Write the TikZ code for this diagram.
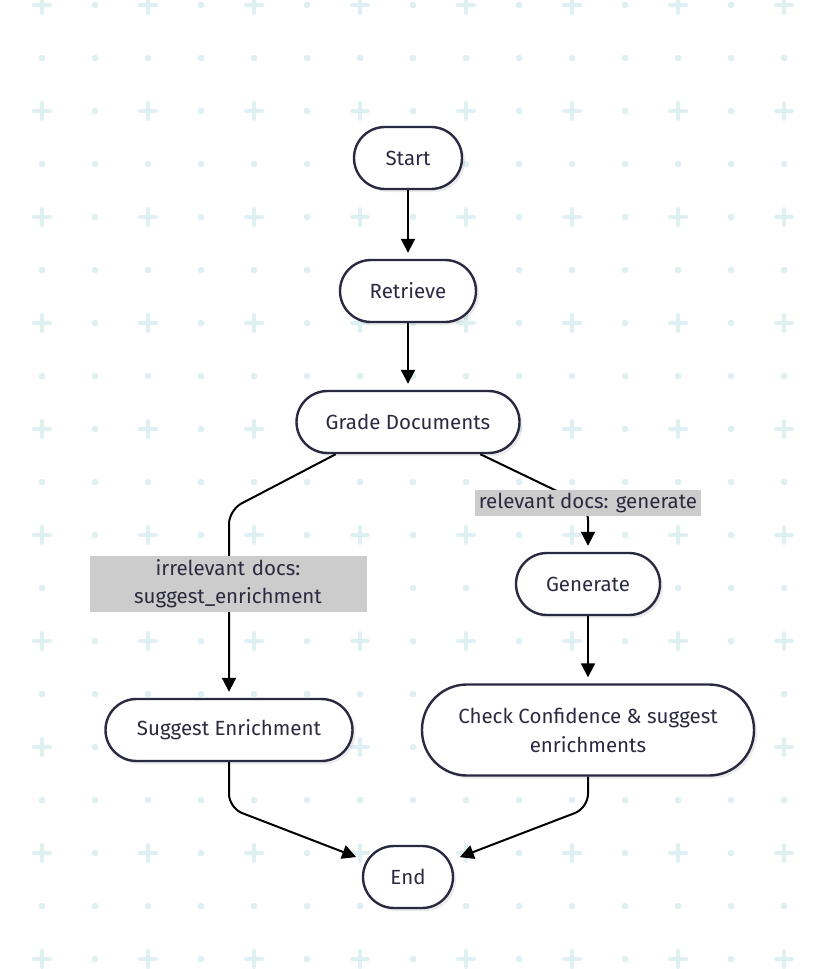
\documentclass[tikz,border=0pt]{standalone}
\usepackage{fontspec}
\setmainfont{Fira Sans}
\usepackage{tikz}
\usetikzlibrary{arrows.meta,shadows}
\definecolor{navyline}{HTML}{2A2942}
\definecolor{navytext}{HTML}{2B2A40}
\definecolor{labelgray}{HTML}{CCCCCC}
\definecolor{gridmark}{HTML}{DFF0F3}

\begin{document}
\begin{tikzpicture}[x=1pt, y=-1pt,
  stage/.style={rectangle, draw=navyline, line width=2.4pt, fill=white,
    rounded corners=31pt, minimum height=62pt, inner sep=0pt, align=center,
    text=navytext, font=\fontsize{20.5}{29}\selectfont,
    drop shadow={shadow xshift=3pt, shadow yshift=-3pt, opacity=0.08, fill=black}},
  flow/.style={line width=2pt, -{Triangle[length=14pt,width=14pt]}, shorten >=6pt,
    rounded corners=14pt},
  edgelabel/.style={fill=labelgray, inner xsep=4pt, inner ysep=3.5pt, align=center,
    text=navytext, font=\fontsize{20.5}{28}\selectfont}]
   \useasboundingbox (0,0) rectangle (824,969);
   \fill[white] (0,0) rectangle (824,969);
   \foreach \i in {0,...,14} \foreach \j in {0,...,18}
     \fill[gridmark, rounded corners=1.5pt] (42+53*\i-3, 5+53*\j-3) rectangle ++(6,6);
   \foreach \i in {0,...,7} \foreach \j in {0,...,9}
     \draw[gridmark, line width=4pt, line cap=round]
       (42+106*\i-8, 5+106*\j) -- ++(16,0) (42+106*\i, 5+106*\j-8) -- ++(0,16);

   \node[stage, minimum width=108pt] (start) at (408,158) {Start};
   \node[stage, minimum width=136pt] (retrieve) at (408,291) {Retrieve};
   \node[stage, minimum width=223pt] (grade) at (408,422) {Grade Documents};
   \node[stage, minimum width=144pt] (generate) at (588,584) {Generate};
   \node[stage, minimum width=247pt] (suggest) at (229,730) {Suggest Enrichment};
   \node[stage, minimum width=332pt, minimum height=91pt, rounded corners=45pt]
        (check) at (588,730) {Check Confidence \& suggest\\enrichments};
   \node[stage, minimum width=90pt] (end) at (408,877) {End};
   \coordinate (bendL) at (229,510);
   \coordinate (bendR) at (588,506);
   \coordinate (bendS) at (229,808);
   \coordinate (bendC) at (588,808);

   \draw[flow] (start) -- (retrieve);
   \draw[flow] (retrieve) -- (grade);
   \draw[flow] (grade.204) -- (bendL) -- (suggest);
   \draw[flow] (grade.-24) -- (bendR) -- (generate);
   \draw[flow] (generate) -- (check);
   \draw[flow] (suggest) -- (bendS) -- (end);
   \draw[flow] (check) -- (bendC) -- (end);
   \node[edgelabel, text width=269pt] (irrel) at (228,584)
        {irrelevant docs:\\suggest\_enrichment};
   \node[edgelabel] (rel) at (588,503) {relevant docs: generate};
  \end{tikzpicture}
\end{document}
